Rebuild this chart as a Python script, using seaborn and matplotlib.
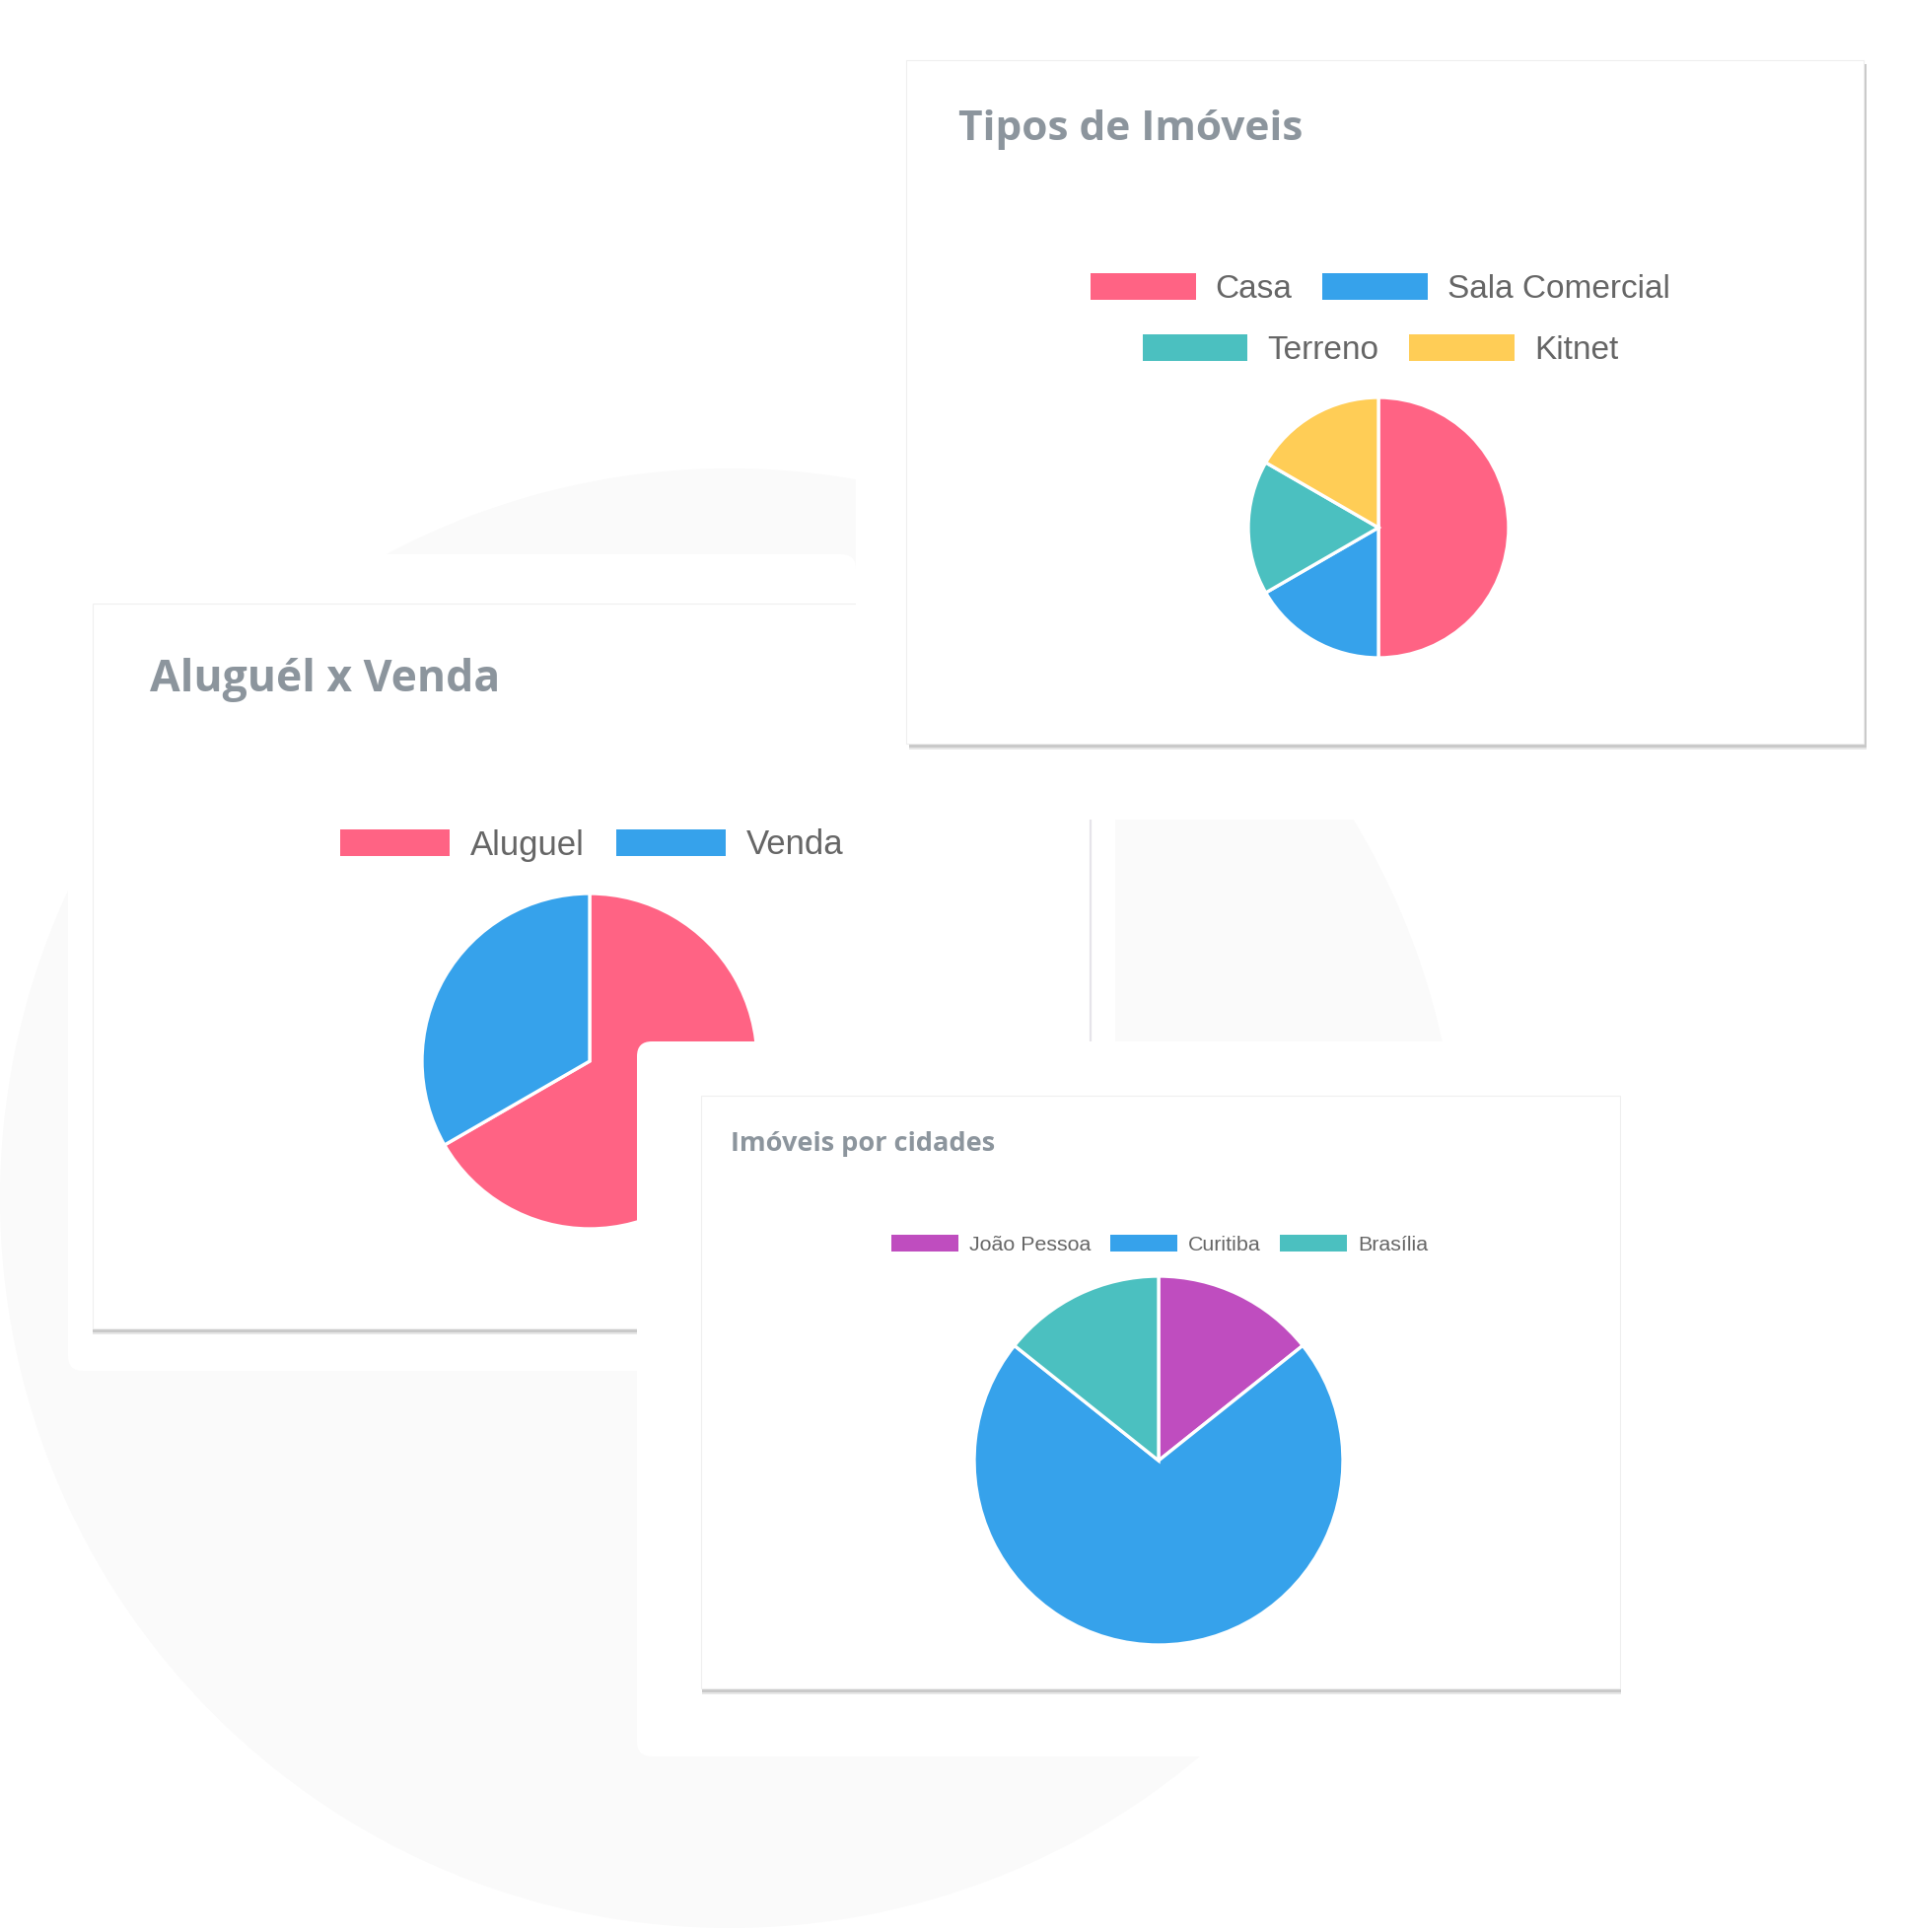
import matplotlib
matplotlib.use('Agg')
import matplotlib.pyplot as plt
import matplotlib.patches as mpatches
import seaborn as sns

# Dados dos graficos
tipos_labels = ['Casa', 'Sala Comercial', 'Terreno', 'Kitnet']
tipos_valores = [3, 1, 1, 1]
tipos_cores = ['#FF6384', '#36A2EB', '#4BC0C0', '#FFCD56']

aluguel_labels = ['Aluguel', 'Venda']
aluguel_valores = [2, 1]
aluguel_cores = ['#FF6384', '#36A2EB']

cidades_labels = ['João Pessoa', 'Curitiba', 'Brasília']
cidades_valores = [1, 5, 1]
cidades_cores = ['#BF4DBF', '#36A2EB', '#4BC0C0']

sns.set_theme(style='white')
plt.rcParams['font.family'] = ['Open Sans', 'DejaVu Sans']

W, H = 1933, 1959
fig = plt.figure(figsize=(W / 100, H / 100), dpi=100, facecolor='white')

COR_TITULO = '#8c959d'
COR_LEGENDA = '#666666'


def cartao(ax, x0, y0, x1, y1, dx=1):
    # sombra embaixo + cartao branco
    ax.add_patch(mpatches.Rectangle((x0 + dx, y0 + 6), x1 - x0, y1 - y0, color='#e6e6e6', lw=0))
    ax.add_patch(mpatches.Rectangle((x0 + dx, y0 + 4), x1 - x0, y1 - y0, color='#c9c9c9', lw=0))
    ax.add_patch(mpatches.Rectangle((x0, y0), x1 - x0, y1 - y0, facecolor='white',
                                    edgecolor='#efefef', lw=0.8))


def mascara(ax, x0, y0, x1, y1, r=0):
    if r:
        ax.add_patch(mpatches.FancyBboxPatch((x0, y0), x1 - x0, y1 - y0,
                                             boxstyle=f'round,pad=0,rounding_size={r}',
                                             facecolor='white', edgecolor='none'))
    else:
        ax.add_patch(mpatches.Rectangle((x0, y0), x1 - x0, y1 - y0, facecolor='white', lw=0))


def pizza(valores, cores, cx, cy, r, z):
    lim = 1.03
    ax = fig.add_axes([(cx - r * lim) / W, 1 - (cy + r * lim) / H, 2 * r * lim / W, 2 * r * lim / H])
    ax.pie(valores, colors=cores, startangle=90, counterclock=False,
           wedgeprops=dict(edgecolor='white', linewidth=2.4))
    ax.set_xlim(-lim, lim)
    ax.set_ylim(-lim, lim)
    ax.set_zorder(z)
    ax.axis('off')
    return ax


def legenda(labels, cores, cx, cy, tam, hl, hh, pad, colsp):
    handles = [mpatches.Patch(facecolor=c, edgecolor='none') for c in cores]
    fig.legend(handles, labels, loc='center', bbox_to_anchor=(cx / W, 1 - cy / H),
               ncol=len(labels), frameon=False, prop={'family': 'Liberation Sans', 'size': tam},
               handlelength=hl, handleheight=hh, handletextpad=pad, columnspacing=colsp,
               borderpad=0, borderaxespad=0, labelcolor=COR_LEGENDA)


# Fundo
ax = fig.add_axes([0, 0, 1, 1])
ax.set_xlim(0, W)
ax.set_ylim(H, 0)
ax.axis('off')
ax.set_zorder(0)

ax.add_patch(mpatches.Circle((740, 1215), 740, color='#fafafa', lw=0))

mascara(ax, 69, 562, 868, 1390, r=15)
cartao(ax, 94, 612, 1000, 1347, dx=0)
ax.text(152, 690, 'Aluguél x Venda', fontsize=32, fontweight='bold', color=COR_TITULO, va='center')

mascara(ax, 868, 0, W, 831)
mascara(ax, 868, 831, 1131, 1056)
ax.vlines(1106, 831, 1056, color='#e6e4ea', lw=1.6)

cartao(ax, 919, 61, 1890, 754, dx=3)
ax.text(972, 132, 'Tipos de Imóveis', fontsize=30.5, fontweight='bold', color=COR_TITULO, va='center')

pizza(tipos_valores, tipos_cores, 1398, 535, 132, 1)
pizza(aluguel_valores, aluguel_cores, 598, 1076, 170, 1)

legenda(tipos_labels[:2], tipos_cores[:2], 1400, 293, 24, 3.2, 0.84, 0.6, 0.93)
legenda(tipos_labels[2:], tipos_cores[2:], 1400, 355, 24, 3.2, 0.84, 0.6, 0.93)
legenda(aluguel_labels, aluguel_cores, 600, 857, 25, 3.2, 0.8, 0.6, 0.93)

# Camada de cima (cartao das cidades)
ax2 = fig.add_axes([0, 0, 1, 1])
ax2.set_xlim(0, W)
ax2.set_ylim(H, 0)
ax2.axis('off')
ax2.patch.set_alpha(0)
ax2.set_zorder(2)

mascara(ax2, 646, 1056, 1750, 1781, r=15)
cartao(ax2, 711, 1111, 1643, 1712, dx=1)
ax2.text(741, 1160, 'Imóveis por cidades', fontsize=19.5, fontweight='bold', color=COR_TITULO, va='center')

pizza(cidades_valores, cidades_cores, 1175, 1481, 187, 3)
legenda(cidades_labels, cidades_cores, 1176, 1262, 15.4, 3.18, 0.84, 0.51, 0.93)

fig.savefig('out.png', dpi=100, facecolor='white')
